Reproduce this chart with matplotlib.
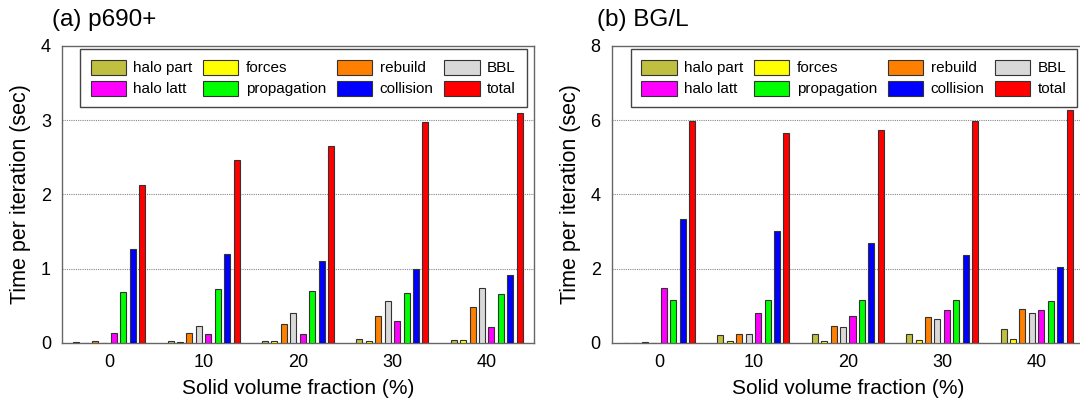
import matplotlib
matplotlib.use("Agg")
import matplotlib.pyplot as plt
import numpy as np

plt.rcParams['font.family'] = ['Liberation Sans', 'DejaVu Sans']

fractions = [0, 10, 20, 30, 40]
series = ["halo part", "forces", "rebuild", "BBL", "halo latt",
          "propagation", "collision", "total"]
colors = ["#bfbf40", "#ffff00", "#ff8000", "#d9d9d9", "#ff00ff",
          "#00ff00", "#0000ff", "#ff0000"]

# (a) p690+
p690_halo_part = [0.01, 0.02, 0.02, 0.05, 0.045]
p690_forces = [0.005, 0.01, 0.02, 0.03, 0.045]
p690_rebuild = [0.02, 0.13, 0.25, 0.36, 0.48]
p690_bbl = [0.0, 0.23, 0.41, 0.57, 0.74]
p690_halo_latt = [0.135, 0.125, 0.117, 0.30, 0.21]
p690_propagation = [0.68, 0.73, 0.70, 0.67, 0.66]
p690_collision = [1.26, 1.20, 1.10, 0.99, 0.92]
p690_total = [2.13, 2.46, 2.65, 2.98, 3.10]

# (b) BG/L
bgl_halo_part = [0.01, 0.21, 0.23, 0.23, 0.38]
bgl_forces = [0.01, 0.05, 0.06, 0.08, 0.10]
bgl_rebuild = [0.02, 0.25, 0.47, 0.69, 0.91]
bgl_bbl = [0.0, 0.23, 0.43, 0.65, 0.81]
bgl_halo_latt = [1.48, 0.81, 0.73, 0.90, 0.90]
bgl_propagation = [1.15, 1.15, 1.15, 1.15, 1.13]
bgl_collision = [3.33, 3.01, 2.69, 2.36, 2.05]
bgl_total = [5.98, 5.66, 5.73, 5.98, 6.27]

p690 = [p690_halo_part, p690_forces, p690_rebuild, p690_bbl,
        p690_halo_latt, p690_propagation, p690_collision, p690_total]
bgl = [bgl_halo_part, bgl_forces, bgl_rebuild, bgl_bbl,
       bgl_halo_latt, bgl_propagation, bgl_collision, bgl_total]

# legend fills column-wise: put entries in display order
legend_order = [0, 4, 1, 5, 2, 6, 3, 7]


def draw_panel(ax, data, ymax, ystep, legx):
    x = np.array(fractions, dtype=float)
    bars = []
    for i, vals in enumerate(data):
        b = ax.bar(x + (i - 3.5), vals, width=0.64, color=colors[i],
                   edgecolor="#333333", linewidth=0.8, zorder=3)
        bars.append(b)
    ax.set_xlim(-5, 45)
    ax.set_ylim(0, ymax)
    ax.set_xticks(fractions)
    ax.set_yticks(np.arange(0, ymax + ystep / 2, ystep))
    for gy in np.arange(ystep, ymax, ystep):
        ax.axhline(gy, color="#888888", linestyle=(0, (1, 1)),
                   linewidth=0.8, zorder=1)
    ax.tick_params(length=0, labelsize=13, pad=8)
    for s in ax.spines.values():
        s.set_color("#666666")
        s.set_linewidth(1.0)
    ax.set_xlabel("Solid volume fraction (%)", fontsize=15, labelpad=6)
    ax.set_ylabel("Time per iteration (sec)", fontsize=15.5, labelpad=7)
    leg = ax.legend([bars[k] for k in legend_order],
                    [series[k] for k in legend_order],
                    ncol=4, loc="upper left", bbox_to_anchor=(legx, 0.99),
                    borderaxespad=0,
                    fontsize=11, frameon=True, fancybox=False,
                    edgecolor="#444444", framealpha=1,
                    handlelength=2.3, handleheight=1.15, handletextpad=0.5,
                    columnspacing=0.7, labelspacing=0.35, borderpad=0.7)
    leg.get_frame().set_linewidth(1.0)
    leg.set_zorder(5)
    return ax


fig = plt.figure(figsize=(10.8, 4.03), dpi=100)
ax1 = fig.add_axes([0.0574, 0.149, 0.437, 0.737])
ax2 = fig.add_axes([0.5665, 0.149, 0.437, 0.737])

draw_panel(ax1, p690, 4, 1, 0.038)
draw_panel(ax2, bgl, 8, 2, 0.04)

fig.text(0.048, 0.95, "(a) p690+", fontsize=17.5, ha="left", va="center")
fig.text(0.553, 0.95, "(b) BG/L", fontsize=17.5, ha="left", va="center")

fig.savefig("out.png", dpi=100)
